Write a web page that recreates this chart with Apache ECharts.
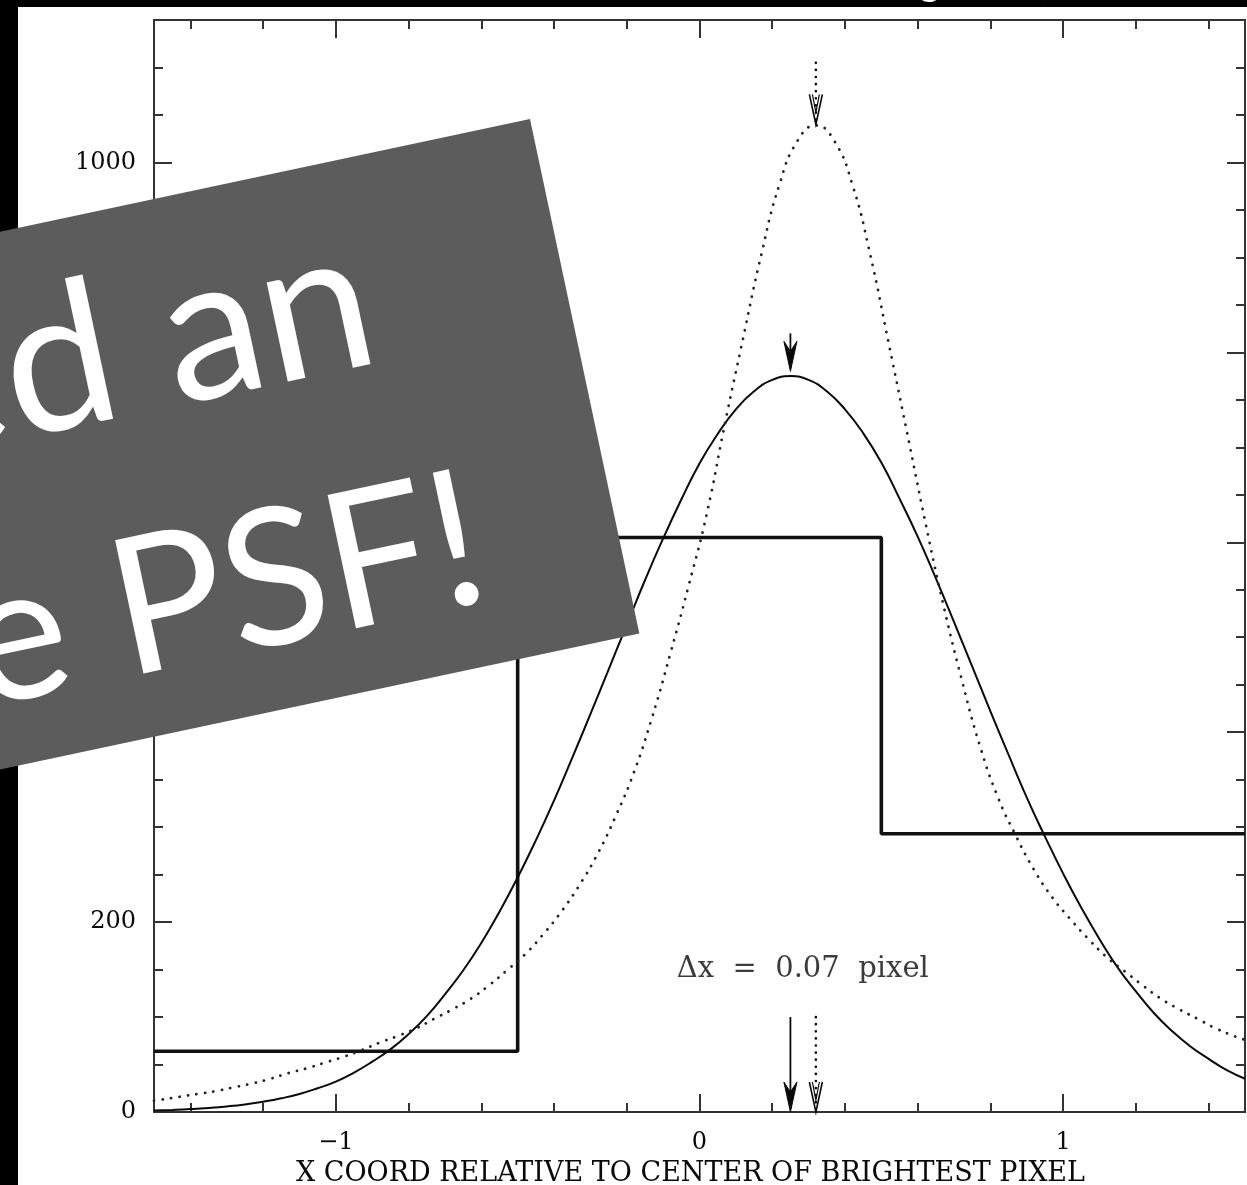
<!DOCTYPE html>
<html>
<head>
<meta charset="utf-8">
<title>Pixel-sampled PSF</title>
<script src="https://cdn.jsdelivr.net/npm/echarts@6/dist/echarts.min.js"></script>
<style>
  html, body { margin: 0; padding: 0; background: #ffffff; }
  #chart { width: 1247px; height: 1185px; }
</style>
</head>
<body>
<div id="chart"></div>
<script>
// ---- axis ranges and ticks ----
const xRange = [-1.5, 1.5];
const yRange = [0, 1150];
const xMajorTicks = [-1, 0, 1];
const xMinorTicks = [-1.4, -1.2, -0.8, -0.6, -0.4, -0.2, 0.2, 0.4, 0.6, 0.8, 1.2, 1.4];
const yMajorTicks = [0, 200, 400, 600, 800, 1000];
const yMinorTicks = [50, 100, 150, 250, 300, 350, 450, 500, 550, 650, 700, 750, 850, 900, 950, 1050, 1100];
const xTitle = 'X COORD RELATIVE TO CENTER OF BRIGHTEST PIXEL';

// ---- pixel counts (three pixels, edges in pixel units) ----
const pixelEdges = [-1.5, -0.5, 0.5, 1.5];
const pixelCounts = [64, 605, 293];

// ---- narrow-core PSF drawn solid ----
const solidX = [-1.5, -1.45, -1.4, -1.35, -1.3, -1.25, -1.2, -1.15, -1.1, -1.05,
  -1.0, -0.95, -0.9, -0.85, -0.8, -0.75, -0.7, -0.65, -0.6, -0.55,
  -0.5, -0.45, -0.4, -0.35, -0.3, -0.25, -0.2, -0.15, -0.1, -0.05,
  0.0, 0.05, 0.1, 0.15, 0.2, 0.25, 0.3, 0.35, 0.4, 0.45,
  0.5, 0.55, 0.6, 0.65, 0.7, 0.75, 0.8, 0.85, 0.9, 0.95,
  1.0, 1.05, 1.1, 1.15, 1.2, 1.25, 1.3, 1.35, 1.4, 1.45, 1.5];
const solidY = [1.5, 2.2, 3.1, 4.3, 5.9, 8, 10.8, 14.4, 19, 25,
  32, 41.5, 53, 66, 82, 101, 124, 149, 178, 211,
  247, 286, 328, 373, 419, 466, 513, 560, 604, 645,
  683, 714, 740, 759, 771, 775, 771, 759, 740, 715,
  684, 646, 606, 562, 516, 469, 422, 376, 331, 290,
  251, 215, 182, 152, 127, 104, 85, 69, 56, 44, 35];

// ---- broad-wing PSF drawn dotted ----
const dottedX = [-1.5, -1.48, -1.43, -1.38, -1.33, -1.28, -1.23, -1.18, -1.13, -1.08,
  -1.03, -0.98, -0.93, -0.88, -0.83, -0.78, -0.73, -0.68, -0.63, -0.58,
  -0.53, -0.48, -0.43, -0.38, -0.33, -0.28, -0.23, -0.18, -0.13, -0.08,
  -0.03, 0.02, 0.07, 0.12, 0.17, 0.22, 0.27, 0.32, 0.37, 0.42,
  0.47, 0.52, 0.57, 0.62, 0.67, 0.72, 0.77, 0.82, 0.87, 0.92,
  0.97, 1.02, 1.07, 1.12, 1.17, 1.22, 1.27, 1.32, 1.37, 1.42, 1.47, 1.5];
const dottedY = [12, 13, 16, 19, 22, 26, 30, 35, 41, 46,
  52, 58, 65, 73, 80, 88, 98, 108, 119, 133,
  149, 166, 187, 211, 239, 272, 312, 358, 416, 483,
  554, 630, 725, 815, 903, 977, 1023, 1039, 1023, 977,
  902, 810, 717, 623, 535, 457, 387, 332, 291, 255,
  226, 203, 182, 163, 148, 133, 119, 108, 98, 88, 80, 76];

// ---- centroid markers: [x, from, to, dotted?] ----
const solidCentroid = 0.25;
const dottedCentroid = 0.32;
const arrowMarks = [
  [solidCentroid, 820, 780, 0],
  [solidCentroid, 100, 0, 0],
  [dottedCentroid, 1105, 1040, 1],
  [dottedCentroid, 100, 0, 1]
];
const deltaLabel = 'Δx  =  0.07  pixel';
const deltaLabelPos = [0.284, 150];

// ---- slide overlay text ----
const bannerLine1 = 'ed an';
const bannerLine2 = 'the PSF!';
const headerLeft = 'Anderson & King 2000,';
const headerRight = 'PASP 112,';

const ink = '#0a0a0a';
const frame = '#333333';
const serif = '"DejaVu Serif", serif';

const toPairs = (xs, ys) => xs.map((x, i) => [x, ys[i]]);
const stepData = pixelEdges.map((e, i) => [e, pixelCounts[Math.min(i, pixelCounts.length - 1)]]);

function xAxisDef(position, ticks, len, withLabels) {
  return {
    type: 'value', min: xRange[0], max: xRange[1], position: position,
    splitLine: { show: false },
    axisLine: { show: true, onZero: false, lineStyle: { color: frame, width: 2 } },
    axisTick: { show: true, inside: true, length: len, customValues: ticks, lineStyle: { color: frame, width: 2 } },
    axisLabel: withLabels ? {
      show: true, customValues: ticks, margin: 19,
      fontFamily: serif, fontSize: 24, color: ink,
      formatter: v => (v < 0 ? '\u2212' + Math.abs(v) : String(v))
    } : { show: false }
  };
}
function yAxisDef(position, ticks, len, withLabels) {
  return {
    type: 'value', min: yRange[0], max: yRange[1], position: position,
    splitLine: { show: false },
    axisLine: { show: true, onZero: false, lineStyle: { color: frame, width: 2 } },
    axisTick: { show: true, inside: true, length: len, customValues: ticks, lineStyle: { color: frame, width: 2 } },
    axisLabel: withLabels ? {
      show: true, customValues: ticks, margin: 18,
      fontFamily: serif, fontSize: 24, color: ink,
      formatter: v => String(v)
    } : { show: false }
  };
}

const xAxes = [
  xAxisDef('bottom', xMajorTicks, 18, true),
  xAxisDef('bottom', xMinorTicks, 9, false),
  xAxisDef('top', xMajorTicks, 18, false),
  xAxisDef('top', xMinorTicks, 9, false)
];
xAxes[0].name = xTitle;
xAxes[0].nameLocation = 'middle';
xAxes[0].nameGap = 48;
xAxes[0].nameTextStyle = { fontFamily: serif, fontSize: 27, color: ink, padding: [0, 18, 0, 0] };

const yAxes = [
  yAxisDef('left', yMajorTicks, 18, true),
  yAxisDef('left', yMinorTicks, 9, false),
  yAxisDef('right', yMajorTicks, 18, false),
  yAxisDef('right', yMinorTicks, 9, false)
];

function renderArrow(params, api) {
  const x = api.value(0);
  const from = api.coord([x, api.value(1)]);
  const tip = api.coord([x, api.value(2)]);
  const dotted = api.value(3) === 1;
  const dir = tip[1] > from[1] ? 1 : -1;
  const hl = 30, hw = 6.5;
  const back = tip[1] - dir * hl;
  const children = [{
    type: 'line',
    shape: { x1: from[0], y1: from[1], x2: tip[0], y2: tip[1] - dir * 3 },
    style: dotted
      ? { stroke: ink, lineWidth: 2.6, lineDash: [0.1, 7], lineCap: 'round' }
      : { stroke: ink, lineWidth: 1.8 }
  }];
  if (dotted) {
    children.push({
      type: 'polyline',
      shape: { points: [[tip[0] - hw, back], [tip[0], tip[1]], [tip[0] + hw, back]] },
      style: { stroke: ink, lineWidth: 1.6, fill: null }
    });
    children.push({
      type: 'polyline',
      shape: { points: [[tip[0] - hw + 3, back], [tip[0], tip[1] - dir * 12], [tip[0] + hw - 3, back]] },
      style: { stroke: ink, lineWidth: 1.2, fill: null }
    });
  } else {
    children.push({
      type: 'polygon',
      shape: { points: [[tip[0] - hw, back], [tip[0], tip[1]], [tip[0] + hw, back], [tip[0], back + dir * 10]] },
      style: { fill: ink, stroke: ink, lineWidth: 1 }
    });
  }
  return { type: 'group', children: children };
}

const chart = echarts.init(document.getElementById('chart'), null, { renderer: 'canvas' });
const rot = 12 * Math.PI / 180;
const bannerSize1 = 200;
const bannerSize2 = 190;

chart.setOption({
  animation: false,
  backgroundColor: '#ffffff',
  grid: { left: 154, right: 2, top: 20, bottom: 73, containLabel: false, outerBoundsMode: 'none' },
  xAxis: xAxes,
  yAxis: yAxes,
  series: [
    {
      name: 'pixels', type: 'line', step: 'end', data: stepData,
      symbol: 'none', lineStyle: { color: '#111', width: 3.6 }, z: 3
    },
    {
      name: 'solid PSF', type: 'line', smooth: true, data: toPairs(solidX, solidY),
      symbol: 'none', lineStyle: { color: ink, width: 2 }, z: 4
    },
    {
      name: 'dotted PSF', type: 'line', smooth: true, data: toPairs(dottedX, dottedY),
      symbol: 'none', lineStyle: { color: '#222', width: 2.8, type: [0.1, 8.5], cap: 'round' }, z: 4
    },
    {
      name: 'centroids', type: 'custom', data: arrowMarks, renderItem: renderArrow,
      encode: { x: 0, y: [1, 2] }, z: 5, silent: true
    },
    {
      name: 'offset', type: 'scatter', data: [deltaLabelPos], symbolSize: 0, silent: true,
      label: { show: true, position: 'inside', formatter: deltaLabel, fontFamily: serif, fontSize: 29, color: ink }
    }
  ],
  graphic: [
    { type: 'rect', shape: { x: 0, y: 0, width: 18, height: 1185 }, style: { fill: '#000' }, z: 50 },
    { type: 'rect', shape: { x: 0, y: 0, width: 1247, height: 7 }, style: { fill: '#000' }, z: 50 },
    {
      type: 'text', x: 1049, y: -18, z: 51,
      style: { text: headerLeft, fill: '#fff', font: '39px Lato', verticalAlign: 'middle', align: 'right' }
    },
    {
      type: 'text', x: 1249, y: -18, z: 51,
      style: { text: headerRight, fill: '#fff', font: '39px Lato', verticalAlign: 'middle', align: 'right' }
    },
    {
      type: 'group', x: 530, y: 119, rotation: rot, z: 100,
      children: [
        { type: 'rect', shape: { x: -1200, y: 0, width: 1200, height: 526 }, style: { fill: '#5c5c5c' }, z: 100 },
        {
          type: 'text', x: -194, y: 214 - 0.36 * bannerSize1, z: 101,
          style: { text: bannerLine1, fill: '#fff', font: bannerSize1 + 'px Lato', align: 'right', verticalAlign: 'middle' }
        },
        {
          type: 'text', x: -135, y: 469 - 0.36 * bannerSize2, z: 101,
          style: { text: bannerLine2, fill: '#fff', font: bannerSize2 + 'px Lato', align: 'right', verticalAlign: 'middle' }
        }
      ]
    }
  ]
});
</script>
</body>
</html>
